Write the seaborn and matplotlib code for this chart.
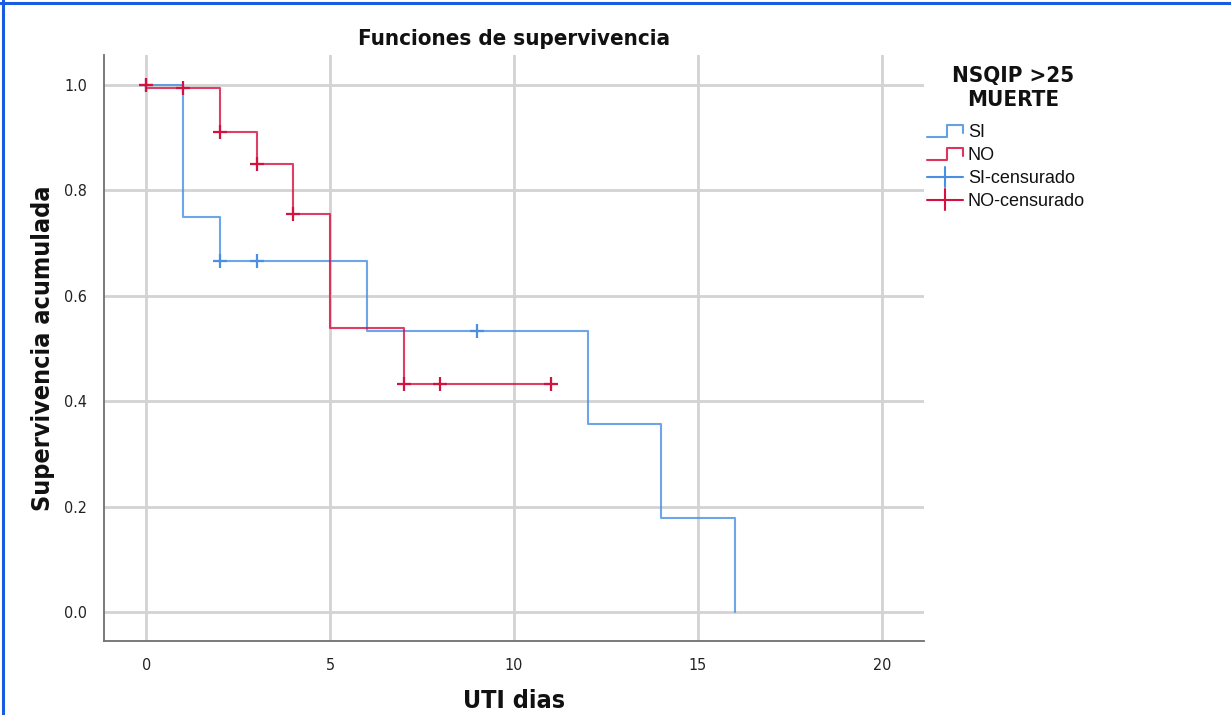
import numpy as np
import pandas as pd
import matplotlib
matplotlib.use("Agg")
import matplotlib.pyplot as plt
from matplotlib.lines import Line2D
from matplotlib.legend_handler import HandlerBase
import seaborn as sns

# Kaplan-Meier step curves (time in days, cumulative survival)
si_times = [0, 1, 2, 6, 12, 14, 16]
si_surv = [1.0, 0.750, 0.667, 0.533, 0.356, 0.178, 0.0]
no_times = [0, 0, 2, 3, 4, 5, 7, 11]
no_surv = [1.0, 0.994, 0.911, 0.851, 0.755, 0.539, 0.432, 0.432]

# Censored observations
si_cens_times = [0, 2, 3, 9]
si_cens_surv = [1.0, 0.667, 0.667, 0.533]
no_cens_times = [0, 1, 2, 3, 4, 7, 8, 11]
no_cens_surv = [1.0, 0.994, 0.911, 0.851, 0.755, 0.432, 0.432, 0.432]

groups = ["SI", "NO"]
x_ticks = [0, 5, 10, 15, 20]
y_ticks = [0.0, 0.2, 0.4, 0.6, 0.8, 1.0]

BLUE = "#4a8fe3"
RED = "#d6103f"
palette = {"SI": BLUE, "NO": RED}

steps = pd.concat([
    pd.DataFrame({"t": si_times, "s": si_surv, "grupo": "SI"}),
    pd.DataFrame({"t": no_times, "s": no_surv, "grupo": "NO"}),
], ignore_index=True)
cens = pd.concat([
    pd.DataFrame({"t": si_cens_times, "s": si_cens_surv, "grupo": "SI"}),
    pd.DataFrame({"t": no_cens_times, "s": no_cens_surv, "grupo": "NO"}),
], ignore_index=True)

sns.set_theme(style="white")
plt.rcParams["font.family"] = ["Liberation Sans", "DejaVu Sans"]
cond = dict(family="DejaVu Sans", fontstretch="condensed")

fig = plt.figure(figsize=(12.31, 7.15), dpi=100)
ax = fig.add_axes([0.0845, 0.1035, 0.6661, 0.8195])

ax.grid(True, color="#d3d3d3", linewidth=2.0)
ax.set_axisbelow(True)

for g in groups:
    sub = steps[steps["grupo"] == g]
    sns.lineplot(data=sub, x="t", y="s", ax=ax, color=palette[g],
                 drawstyle="steps-post", estimator=None, sort=False,
                 linewidth=1.5, alpha=0.8, legend=False)
for g in groups:
    sub = cens[cens["grupo"] == g]
    sns.scatterplot(data=sub, x="t", y="s", ax=ax, color=palette[g],
                    marker="+", s=110, linewidth=1.6, legend=False, zorder=5)

ax.set_xlim(-1.15, 21.15)
ax.set_ylim(-0.055, 1.057)
ax.set_xticks(x_ticks)
ax.set_xticklabels([str(v) for v in x_ticks], fontsize=11.5, **cond)
ax.set_yticks(y_ticks)
ax.set_yticklabels([f"{v:.1f}" for v in y_ticks], fontsize=11.5, **cond)
ax.tick_params(length=0, colors="#222222")
ax.tick_params(axis="y", pad=12)
ax.tick_params(axis="x", pad=12)

for side in ["top", "right"]:
    ax.spines[side].set_visible(False)
for side in ["left", "bottom"]:
    ax.spines[side].set_color("#707070")
    ax.spines[side].set_linewidth(1.3)

ax.set_title("Funciones de supervivencia", fontweight="bold",
             fontsize=16, pad=7, color="#111111", **cond)
ax.set_xlabel("UTI dias", fontweight="bold", fontsize=18, labelpad=12,
              color="#111111", **cond)
ax.set_ylabel("Supervivencia acumulada", fontweight="bold",
              fontsize=18, labelpad=7, color="#111111", **cond)


class StepHandle:
    def __init__(self, color):
        self.color = color


class CrossHandle:
    def __init__(self, color):
        self.color = color


class StepHandler(HandlerBase):
    def create_artists(self, legend, orig_handle, xdescent, ydescent,
                       width, height, fontsize, trans):
        x0, x1 = -xdescent, -xdescent + width
        xm = x0 + width * 0.55
        yl = -ydescent + height * 0.0
        yh = -ydescent + height * 0.95
        yr = -ydescent + height * 0.35
        line = Line2D([x0, xm, xm, x1, x1], [yl, yl, yh, yh, yr],
                      color=orig_handle.color, linewidth=1.5, alpha=0.85,
                      transform=trans)
        return [line]


class CrossHandler(HandlerBase):
    def create_artists(self, legend, orig_handle, xdescent, ydescent,
                       width, height, fontsize, trans):
        x0, x1 = -xdescent, -xdescent + width
        xm = x0 + width * 0.5
        ym = -ydescent + height * 0.5
        h = Line2D([x0, x1], [ym, ym], color=orig_handle.color,
                   linewidth=1.5, transform=trans)
        v = Line2D([xm, xm], [ym - height * 0.8, ym + height * 0.8],
                   color=orig_handle.color, linewidth=1.5, transform=trans)
        return [h, v]


# Legend heading, centered above the entries
fig.text(1013 / 1231, 1 - 76 / 715, "NSQIP >25", ha="center", va="center",
         fontweight="bold", fontsize=16, color="#111111", **cond)
fig.text(1013 / 1231, 1 - 100 / 715, "MUERTE", ha="center", va="center",
         fontweight="bold", fontsize=16, color="#111111", **cond)

handles = [StepHandle(BLUE), StepHandle(RED), CrossHandle(BLUE), CrossHandle(RED)]
labels = ["SI", "NO", "SI-censurado", "NO-censurado"]
leg = fig.legend(handles, labels,
                 handler_map={StepHandle: StepHandler(), CrossHandle: CrossHandler()},
                 loc="upper left", bbox_to_anchor=(0.746, 1 - 115 / 715),
                 frameon=False, fontsize=13, borderpad=0.0,
                 handlelength=1.95, handletextpad=0.3, labelspacing=0.33)
for t in leg.get_texts():
    t.set_color("#111111")

# Blue frame along the top and left edges
fig.add_artist(Line2D([0, 1], [0.9955, 0.9955], transform=fig.transFigure,
                      color="#1a5ce0", linewidth=2.2))
fig.add_artist(Line2D([0.0028, 0.0028], [0, 1], transform=fig.transFigure,
                      color="#1a5ce0", linewidth=2.2))

fig.savefig("out.png", dpi=100)
